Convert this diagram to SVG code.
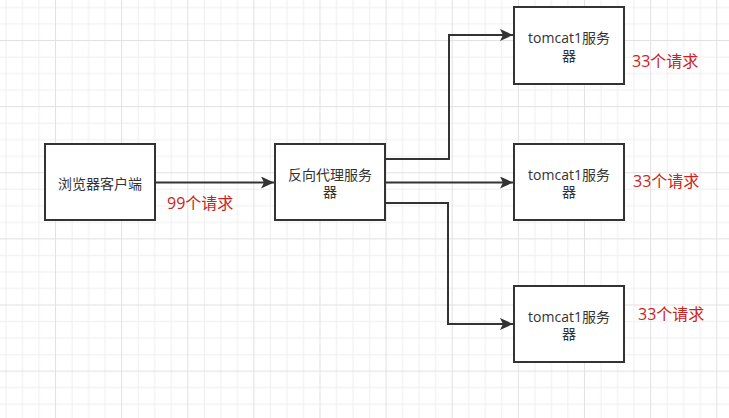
<svg xmlns="http://www.w3.org/2000/svg" width="729" height="418" viewBox="0 0 729 418">
  <defs>
    <pattern id="grid" patternUnits="userSpaceOnUse" x="55" y="40" width="66.12" height="66.12">
      <rect x="0" y="0" width="66.12" height="66.12" fill="#ffffff"/>
      <g fill="#efefef">
        <rect x="16.53" y="0" width="1" height="66.12"/>
        <rect x="33.06" y="0" width="1" height="66.12"/>
        <rect x="49.59" y="0" width="1" height="66.12"/>
        <rect x="0" y="16.53" width="66.12" height="1"/>
        <rect x="0" y="33.06" width="66.12" height="1"/>
        <rect x="0" y="49.59" width="66.12" height="1"/>
      </g>
      <g fill="#e2e2e2">
        <rect x="0" y="0" width="1" height="66.12"/>
        <rect x="0" y="0" width="66.12" height="1"/>
      </g>
    </pattern>
    <marker id="arrow" markerUnits="userSpaceOnUse" markerWidth="14" markerHeight="12" refX="13" refY="6" orient="auto">
      <path d="M0,0 L13,6 L0,12 L3,6 Z" fill="#333333"/>
    </marker>
    <style>
      .box { fill: #ffffff; stroke: #333333; stroke-width: 2; }
      .lbl { font-family: "Open Sans", "Noto Sans CJK SC", sans-serif; font-size: 14px; fill: #333333; text-anchor: middle; dominant-baseline: central; }
      .red { font-family: "Open Sans", "Noto Sans CJK SC", sans-serif; font-size: 16px; fill: #cc2222; dominant-baseline: central; }
      .edge { fill: none; stroke: #333333; stroke-width: 2; marker-end: url(#arrow); }
    </style>
  </defs>
  <rect x="0" y="0" width="729" height="418" fill="url(#grid)"/>

  <g id="connectors">
    <path class="edge" d="M155,182.5 L274,182.5"/>
    <path class="edge" d="M385,159 L449,159 L449,35 L513,35"/>
    <path class="edge" d="M385,182.5 L513,182.5"/>
    <path class="edge" d="M384,203 L448,203 L448,324 L513,324"/>
  </g>

  <g id="browser">
    <rect class="box" x="45" y="144" width="110" height="76"/>
    <text class="lbl" x="100" y="183">浏览器客户端</text>
  </g>

  <g id="proxy">
    <rect class="box" x="275" y="144" width="110" height="76"/>
    <text class="lbl" x="330" y="174">反向代理服务</text>
    <text class="lbl" x="330" y="191.5">器</text>
  </g>

  <g id="tomcat-top">
    <rect class="box" x="514" y="7" width="110" height="77"/>
    <text class="lbl" x="569" y="37.5">tomcat1服务</text>
    <text class="lbl" x="569" y="55">器</text>
  </g>

  <g id="tomcat-mid">
    <rect class="box" x="514" y="144" width="110" height="76"/>
    <text class="lbl" x="569" y="174">tomcat1服务</text>
    <text class="lbl" x="569" y="191.5">器</text>
  </g>

  <g id="tomcat-bottom">
    <rect class="box" x="514" y="286" width="110" height="76"/>
    <text class="lbl" x="569" y="316">tomcat1服务</text>
    <text class="lbl" x="569" y="333.5">器</text>
  </g>

  <g id="labels">
    <text class="red" x="167" y="203">99个请求</text>
    <text class="red" x="632" y="61">33个请求</text>
    <text class="red" x="633" y="181">33个请求</text>
    <text class="red" x="638" y="314">33个请求</text>
  </g>
</svg>
